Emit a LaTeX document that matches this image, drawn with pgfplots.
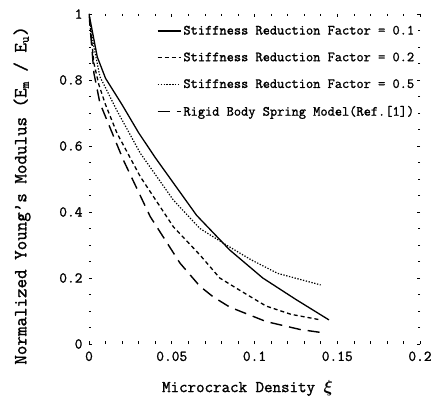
\documentclass[border=0pt]{standalone}
\usepackage{amsmath}
\usepackage{fontspec}
\setmainfont{Latin Modern Mono}[FakeBold=1.3]
\usepackage{pgfplots}
\pgfplotsset{compat=1.18}
\begin{document}
\begin{tikzpicture}
\begin{axis}[
  scale only axis, width=331pt, height=330pt,
  xmin=0, xmax=0.2, ymin=0, ymax=1,
  /pgf/number format/assume math mode=true,
  scaled x ticks=false, scaled y ticks=false,
  xtick={0,0.05,0.1,0.15,0.2}, xticklabels={0,0.05,0.1,0.15,0.2},
  ytick={0,0.2,0.4,0.6,0.8,1}, yticklabels={0,0.2,0.4,0.6,0.8,1},
  minor x tick num=4, minor y tick num=3,
  tick align=inside, major tick length=3pt, minor tick length=2.5pt,
  tick style={black, line width=0.6pt},
  axis line style={draw=none},
  ticklabel style={font=\fontsize{15}{17}\selectfont},
  xticklabel style={yshift=-4pt},
  yticklabel style={xshift=-3pt},
  xlabel={Microcrack Density $\boldsymbol{\xi}$},
  ylabel={Normalized Young’s Modulus (E\textsubscript{m} / E\textsubscript{u})},
  xlabel style={font=\fontsize{16.5}{18}\selectfont, at={(axis description cs:0.5,0)}, anchor=center, yshift=-44pt, xshift=-7pt},
  ylabel style={font=\fontsize{18.5}{20}\selectfont, at={(axis description cs:-0.2024,0.45)}, anchor=center},
  legend cell align=left,
  legend image code/.code={\draw[#1] (0pt,0pt) -- (23pt,0pt);},
  legend style={draw=none, fill=none, at={(0.995,0.977)}, anchor=north east,
    font=\fontsize{14}{16}\selectfont, row sep=12.5pt, inner sep=2pt},
]
\addplot[black, line width=1.3pt] coordinates {
(0,1) (0.005,0.87) (0.01,0.805) (0.02,0.725) (0.03,0.64) (0.04,0.565)
(0.05,0.495) (0.065,0.39) (0.085,0.285) (0.105,0.2) (0.125,0.135) (0.145,0.073)};
\addlegendentry{Stiffness Reduction Factor = 0.1}
\addplot[black, line width=1.3pt, dash pattern=on 4pt off 3pt] coordinates {
(0,1) (0.003,0.85) (0.006,0.785) (0.01,0.725) (0.017,0.638) (0.031,0.507)
(0.051,0.355) (0.067,0.27) (0.079,0.2) (0.092,0.16) (0.107,0.115) (0.122,0.09) (0.14,0.073)};
\addlegendentry{Stiffness Reduction Factor = 0.2}
\addplot[black, line width=1.2pt, dash pattern=on 1.3pt off 1.6pt] coordinates {
(0,1) (0.0026,0.91) (0.0066,0.81) (0.0167,0.709) (0.031,0.578) (0.051,0.436)
(0.067,0.35) (0.083,0.30) (0.098,0.255) (0.114,0.214) (0.14,0.179)};
\addlegendentry{Stiffness Reduction Factor = 0.5}
\addplot[black, line width=1.4pt, dash pattern=on 12pt off 7pt] coordinates {
(0,1) (0.003,0.82) (0.0066,0.73) (0.0207,0.558) (0.037,0.386) (0.055,0.245)
(0.067,0.175) (0.075,0.143) (0.085,0.112) (0.107,0.068) (0.1275,0.044) (0.14,0.035)};
\addlegendentry{Rigid Body Spring Model(Ref.[1])}
\end{axis}
\pgfresetboundingbox
\useasboundingbox (-89pt,-63pt) rectangle (345pt,344pt);
\end{tikzpicture}
\end{document}
